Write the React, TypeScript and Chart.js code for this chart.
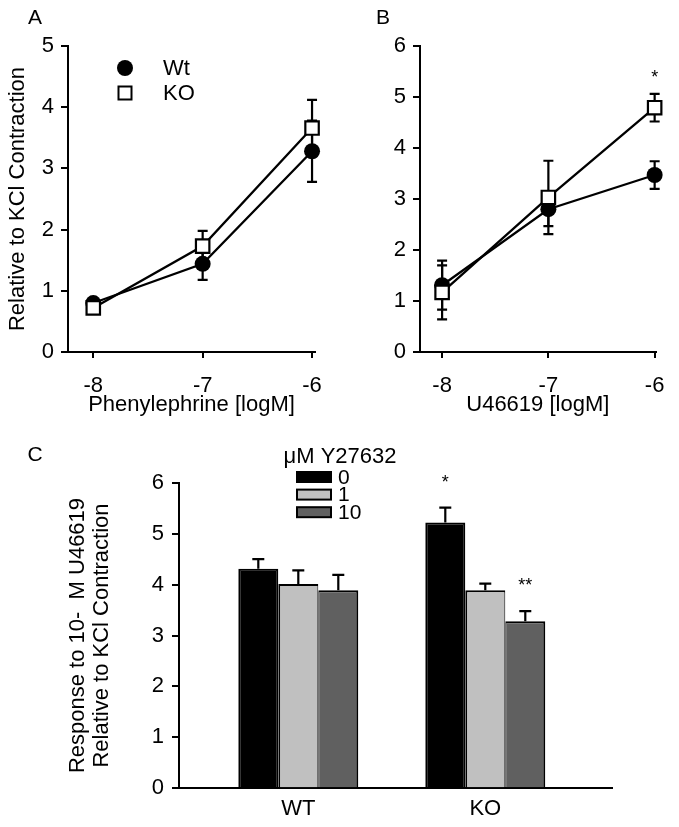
import React, { useEffect, useRef } from 'react';
import { Chart, registerables } from 'chart.js';

Chart.register(...registerables);

const FONT_FAMILY = '"Liberation Sans", Arial, Helvetica, sans-serif';
Chart.defaults.font.family = FONT_FAMILY;
Chart.defaults.color = '#000000';

// ---------------- Panel A: Phenylephrine ----------------
const doseA = [-8, -7, -6];
const wtA = [0.8, 1.44, 3.28];
const wtAErr = [0.07, 0.26, 0.5];
const koA = [0.72, 1.73, 3.66];
const koAErr = [0.07, 0.25, 0.46];

// ---------------- Panel B: U46619 ----------------
const doseB = [-8, -7, -6];
const wtB = [1.31, 2.8, 3.47];
const wtBErr = [0.48, 0.33, 0.27];
const koB = [1.17, 3.03, 4.79];
const koBErr = [0.53, 0.72, 0.27];
const koBSig = ['', '', '*'];

// ---------------- Panel C: Y27632 ----------------
const genotypesC = ['WT', 'KO'];
const genotypeIndexC = [1, 2];
const y27632Labels = ['0', '1', '10'];
const c0 = [4.31, 5.22];
const c0Err = [0.19, 0.29];
const c1 = [4.01, 3.89];
const c1Err = [0.27, 0.13];
const c10 = [3.89, 3.28];
const c10Err = [0.3, 0.2];
const c0Sig = ['', '*'];
const c10Sig = ['', '**'];
const barColorsC = ['#000000', '#c0c0c0', '#606060'];

const AXIS_FONT = { size: 22, family: FONT_FAMILY };

type ErrSpec = { datasetIndex: number; values: number[]; errors: number[]; up: boolean; down: boolean; cap: number };

function errorBarDraw(specs: ErrSpec[]) {
  return (chart: any) => {
    const ctx = chart.ctx;
    const ys = chart.scales.y;
    ctx.save();
    ctx.strokeStyle = '#000000';
    ctx.lineWidth = 2.2;
    specs.forEach((s) => {
      const meta = chart.getDatasetMeta(s.datasetIndex);
      s.values.forEach((v, j) => {
        const el = meta.data[j];
        if (!el) return;
        const x = el.x;
        const yc = ys.getPixelForValue(v);
        const yt = ys.getPixelForValue(v + s.errors[j]);
        const yb = ys.getPixelForValue(v - s.errors[j]);
        ctx.beginPath();
        if (s.up) {
          ctx.moveTo(x, yc);
          ctx.lineTo(x, yt);
          ctx.moveTo(x - s.cap, yt);
          ctx.lineTo(x + s.cap, yt);
        }
        if (s.down) {
          ctx.moveTo(x, yc);
          ctx.lineTo(x, yb);
          ctx.moveTo(x - s.cap, yb);
          ctx.lineTo(x + s.cap, yb);
        }
        ctx.stroke();
      });
    });
    ctx.restore();
  };
}

type SigSpec = { datasetIndex: number; values: number[]; errors: number[]; labels: string[]; gap: number; size: number };

function sigPlugin(specs: SigSpec[]) {
  return {
    id: 'sigMarks',
    afterDatasetsDraw(chart: any) {
      const ctx = chart.ctx;
      const ys = chart.scales.y;
      ctx.save();
      ctx.fillStyle = '#000000';
      ctx.textAlign = 'center';
      ctx.textBaseline = 'alphabetic';
      specs.forEach((s) => {
        const meta = chart.getDatasetMeta(s.datasetIndex);
        s.labels.forEach((lab, j) => {
          if (!lab) return;
          const el = meta.data[j];
          if (!el) return;
          ctx.font = `${s.size}px ${FONT_FAMILY}`;
          ctx.fillText(lab, el.x, ys.getPixelForValue(s.values[j] + s.errors[j]) - s.gap);
        });
      });
      ctx.restore();
    },
  };
}

function letterPlugin(letter: string, x: number, y: number) {
  return {
    id: 'panelLetter',
    afterDraw(chart: any) {
      const ctx = chart.ctx;
      ctx.save();
      ctx.fillStyle = '#000000';
      ctx.font = `21px ${FONT_FAMILY}`;
      ctx.textAlign = 'center';
      ctx.textBaseline = 'middle';
      ctx.fillText(letter, x, y);
      ctx.restore();
    },
  };
}

const lineLegendPlugin = {
  id: 'lineLegend',
  afterDraw(chart: any) {
    const ctx = chart.ctx;
    const { left, top } = chart.chartArea;
    const mx = left + 57;
    const tx = left + 95;
    ctx.save();
    chart.data.datasets.forEach((ds: any, i: number) => {
      const y = top + 22 + i * 25;
      ctx.lineWidth = 2;
      ctx.strokeStyle = '#000000';
      ctx.fillStyle = ds.pointBackgroundColor;
      if (ds.pointStyle === 'rect') {
        const s = 13;
        ctx.fillRect(mx - s / 2, y - s / 2, s, s);
        ctx.strokeRect(mx - s / 2, y - s / 2, s, s);
      } else {
        ctx.beginPath();
        ctx.arc(mx, y, 8, 0, Math.PI * 2);
        ctx.fill();
      }
      ctx.fillStyle = '#000000';
      ctx.font = `22px ${FONT_FAMILY}`;
      ctx.textAlign = 'left';
      ctx.textBaseline = 'middle';
      ctx.fillText(ds.label, tx, y + 1);
    });
    ctx.restore();
  },
};

const barLegendPlugin = {
  id: 'barLegend',
  afterDraw(chart: any) {
    const ctx = chart.ctx;
    ctx.save();
    ctx.fillStyle = '#000000';
    ctx.font = `22px ${FONT_FAMILY}`;
    ctx.textAlign = 'center';
    ctx.textBaseline = 'middle';
    ctx.fillText('\u03bcM Y27632', 340, 27);
    chart.data.datasets.forEach((ds: any, i: number) => {
      const cy = 47 + i * 17.6;
      ctx.fillStyle = ds.backgroundColor;
      ctx.fillRect(297, cy - 5, 34, 10);
      ctx.lineWidth = 2;
      ctx.strokeStyle = '#000000';
      ctx.strokeRect(297, cy - 5, 34, 10);
      ctx.fillStyle = '#000000';
      ctx.font = `21px ${FONT_FAMILY}`;
      ctx.textAlign = 'left';
      ctx.fillText(ds.label, 338, cy + 1);
    });
    ctx.restore();
  },
};

function linePanelConfig(p: {
  dose: number[]; wt: number[]; wtErr: number[]; ko: number[]; koErr: number[];
  yMax: number; xMin: number; xMax: number; yAxisWidth: number; padRight: number;
  xTitle: string; yTitle?: string; letter: string; letterX: number; legend: boolean;
  sig?: string[];
}) {
  const plugins: any[] = [
    { id: 'errBefore', beforeDatasetsDraw: errorBarDraw([
      { datasetIndex: 0, values: p.wt, errors: p.wtErr, up: true, down: true, cap: 5 },
      { datasetIndex: 1, values: p.ko, errors: p.koErr, up: true, down: true, cap: 5 },
    ]) },
    letterPlugin(p.letter, p.letterX, 18),
  ];
  if (p.legend) plugins.push(lineLegendPlugin);
  if (p.sig) plugins.push(sigPlugin([{ datasetIndex: 1, values: p.ko, errors: p.koErr, labels: p.sig, gap: 11, size: 18 }]));
  return {
    type: 'line',
    data: {
      datasets: [
        {
          label: 'Wt', order: 2,
          data: p.dose.map((x, i) => ({ x, y: p.wt[i] })),
          borderColor: '#000000', borderWidth: 2.3,
          pointStyle: 'circle', pointRadius: 8, pointBackgroundColor: '#000000',
          pointBorderColor: '#000000', pointBorderWidth: 0, clip: false,
        },
        {
          label: 'KO', order: 1,
          data: p.dose.map((x, i) => ({ x, y: p.ko[i] })),
          borderColor: '#000000', borderWidth: 2.3,
          pointStyle: 'rect', pointRadius: 9.5, pointBackgroundColor: '#ffffff',
          pointBorderColor: '#000000', pointBorderWidth: 2.2, clip: false,
        },
      ],
    },
    options: {
      responsive: false, animation: false, devicePixelRatio: 1,
      layout: { padding: { left: 0, top: 46, right: p.padRight, bottom: 0 } },
      plugins: { legend: { display: false }, tooltip: { enabled: false } },
      scales: {
        x: {
          type: 'linear', min: p.xMin, max: p.xMax,
          grid: { drawOnChartArea: false, drawTicks: true, tickLength: 6, color: '#000000', lineWidth: 2 },
          border: { color: '#000000', width: 2 },
          afterBuildTicks: (s: any) => { s.ticks = p.dose.map((v) => ({ value: v })); },
          afterFit: (s: any) => { s.height = 78; },
          ticks: { font: AXIS_FONT, padding: 14.5, autoSkip: false, maxRotation: 0, callback: (v: any) => String(v) },
          title: { display: true, text: p.xTitle, font: AXIS_FONT, padding: { top: 0, bottom: 12 } },
        },
        y: {
          min: 0, max: p.yMax,
          grid: { drawOnChartArea: false, drawTicks: true, tickLength: 7, color: '#000000', lineWidth: 2 },
          border: { color: '#000000', width: 2 },
          afterFit: (s: any) => { s.width = p.yAxisWidth; },
          ticks: { font: AXIS_FONT, padding: 7, stepSize: 1 },
          title: p.yTitle
            ? { display: true, text: p.yTitle, font: AXIS_FONT, padding: { top: 4.8, bottom: 0 } }
            : { display: false },
        },
      },
    },
    plugins,
  };
}

function barPanelConfig() {
  const vals = [c0, c1, c10];
  const errs = [c0Err, c1Err, c10Err];
  const borders = [
    { left: 2, top: 2, right: 2, bottom: 0 },
    { left: 2, top: 2, right: 1, bottom: 0 },
    { left: 1, top: 2, right: 2, bottom: 0 },
  ];
  return {
    type: 'bar',
    data: {
      datasets: y27632Labels.map((lab, k) => ({
        label: lab,
        data: genotypeIndexC.map((x, i) => ({ x, y: vals[k][i] })),
        backgroundColor: barColorsC[k],
        borderColor: '#000000',
        borderWidth: borders[k],
        borderSkipped: false,
        categoryPercentage: 0.6417,
        barPercentage: 1,
      })),
    },
    options: {
      responsive: false, animation: false, devicePixelRatio: 1,
      layout: { padding: { left: 0, top: 52.7, right: 67.3, bottom: 0 } },
      plugins: { legend: { display: false }, tooltip: { enabled: false } },
      scales: {
        x: {
          type: 'linear', min: 0.362, max: 2.676, offset: false,
          grid: { drawOnChartArea: false, drawTicks: false, color: '#000000', lineWidth: 2 },
          border: { color: '#000000', width: 2 },
          afterBuildTicks: (s: any) => { s.ticks = genotypeIndexC.map((v) => ({ value: v })); },
          afterFit: (s: any) => { s.height = 38.7; },
          ticks: { font: AXIS_FONT, padding: 7.5, autoSkip: false, maxRotation: 0, callback: (v: any) => genotypesC[genotypeIndexC.indexOf(v)] ?? '' },
        },
        y: {
          min: 0, max: 6,
          grid: { drawOnChartArea: false, drawTicks: true, tickLength: 7, color: '#000000', lineWidth: 2 },
          border: { color: '#000000', width: 2 },
          afterFit: (s: any) => { s.width = 179; },
          ticks: { font: AXIS_FONT, padding: 8, stepSize: 1 },
          title: {
            display: true,
            text: ['Response to 10-  M U46619', 'Relative to KCl Contraction'],
            font: { size: 22, family: FONT_FAMILY, lineHeight: 1.09 },
            padding: { top: 66.3, bottom: 0 },
          },
        },
      },
    },
    plugins: [
      { id: 'errAfter', afterDatasetsDraw: errorBarDraw(vals.map((v, k) => ({ datasetIndex: k, values: v, errors: errs[k], up: true, down: false, cap: 6 }))) },
      sigPlugin([
        { datasetIndex: 0, values: c0, errors: c0Err, labels: c0Sig, gap: 20, size: 18 },
        { datasetIndex: 2, values: c10, errors: c10Err, labels: c10Sig, gap: 20, size: 18 },
      ]),
      barLegendPlugin,
      letterPlugin('C', 35, 25),
    ],
  };
}

function ChartCanvas(props: { build: () => any; left: number; top: number; width: number; height: number }) {
  const ref = useRef<HTMLCanvasElement>(null);
  useEffect(() => {
    const chart = new Chart(ref.current as HTMLCanvasElement, props.build());
    return () => chart.destroy();
  }, []);
  return (
    <canvas
      ref={ref}
      width={props.width}
      height={props.height}
      style={{ position: 'absolute', left: props.left, top: props.top, width: props.width, height: props.height }}
    />
  );
}

export default function App() {
  return (
    <div style={{ position: 'absolute', left: 0, top: 0, width: 679, height: 827, background: '#ffffff', overflow: 'hidden' }}>
      <ChartCanvas
        left={0} top={0} width={340} height={430}
        build={() => linePanelConfig({
          dose: doseA, wt: wtA, wtErr: wtAErr, ko: koA, koErr: koAErr,
          yMax: 5, xMin: -8.231, xMax: -5.973, yAxisWidth: 68, padRight: 25,
          xTitle: 'Phenylephrine [logM]', yTitle: 'Relative to KCl Contraction',
          letter: 'A', letterX: 35, legend: true,
        })}
      />
      <ChartCanvas
        left={340} top={0} width={339} height={430}
        build={() => linePanelConfig({
          dose: doseB, wt: wtB, wtErr: wtBErr, ko: koB, koErr: koBErr,
          yMax: 6, xMin: -8.208, xMax: -5.991, yAxisWidth: 80, padRight: 17.3,
          xTitle: 'U46619 [logM]', letter: 'B', letterX: 43, legend: false, sig: koBSig,
        })}
      />
      <ChartCanvas left={0} top={430} width={679} height={397} build={barPanelConfig} />
    </div>
  );
}
